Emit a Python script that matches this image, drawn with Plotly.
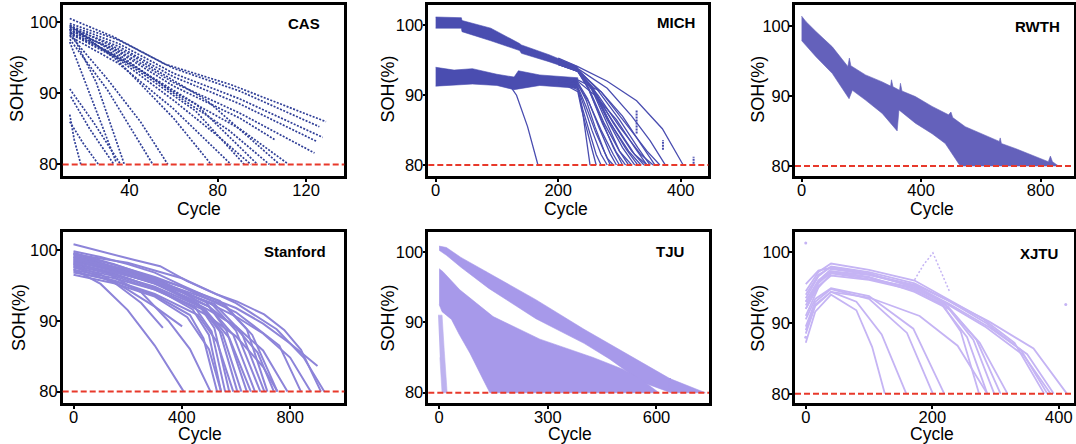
import plotly.graph_objects as go

# ---------------------------------------------------------------- data
# CAS (each curve: cycles / SOH %)
CAS_CYCLE = [
    [13, 33, 56, 86, 129], [13, 35, 60, 90, 126], [13, 35, 60, 90, 127.5],
    [13, 35, 60, 90, 125], [13, 35, 60, 90, 123.8], [13, 35, 60, 90, 105.7],
    [13, 35, 60, 90, 111.7], [13, 35, 60, 85, 103.4], [13, 35, 60, 80, 95],
    [13, 35, 60, 86], [13, 35, 60, 77], [13, 30, 45, 57.4], [13, 30, 50.6],
    [13, 25, 37.7], [13, 22, 34], [13, 40, 70, 92], [13, 40, 70, 98],
    [13, 40, 75, 108], [13, 24, 36], [13.5, 22, 33], [13, 15, 18], [13, 19, 26],
]
CAS_SOH = [
    [100.5, 97.9, 94.1, 91.2, 86.0], [99.8, 97.5, 93.5, 90.3, 85.3], [99.5, 97.0, 92.8, 89.2, 83.8],
    [99.2, 96.6, 92.3, 88.5, 83.2], [98.8, 96.0, 91.5, 87.2, 81.6], [99.0, 95.8, 91.0, 86.5, 83.5],
    [98.6, 95.2, 90.2, 85.0, 80.1], [99.3, 95.5, 90.0, 84.8, 80.0], [98.4, 94.8, 89.0, 84.0, 80.0],
    [98.0, 94.2, 87.8, 80.0], [99.6, 94.5, 86.5, 80.0], [98.2, 92.0, 86.0, 80.0], [97.6, 90.5, 80.0],
    [99.0, 91.5, 80.0], [97.2, 90.0, 80.3], [99.0, 94.0, 87.5, 80.0], [98.5, 94.2, 88.5, 80.0],
    [99.4, 95.5, 89.0, 80.0], [90.6, 85.8, 80.0], [89.5, 85.0, 80.0], [87.0, 83.5, 80.0], [86.0, 83.0, 80.0],
]

# MICH bands (upper / lower edges) and diverging curves
MICH_UP_TOP_C = [0, 42, 43, 90, 137, 140, 185, 232]
MICH_UP_TOP_S = [101.2, 101.1, 100.7, 99.6, 97.4, 97.2, 95.8, 94.1]
MICH_UP_BOT_C = [0, 42, 43, 90, 137, 140, 185, 232]
MICH_UP_BOT_S = [99.6, 99.6, 99.1, 97.8, 96.4, 96.0, 94.8, 93.4]
MICH_LO_TOP_C = [0, 30, 60, 100, 128, 135, 170, 232]
MICH_LO_TOP_S = [94.0, 93.6, 93.8, 93.0, 92.6, 93.5, 92.9, 92.5]
MICH_LO_BOT_C = [0, 60, 100, 128, 170, 232]
MICH_LO_BOT_S = [91.3, 91.6, 91.4, 90.8, 91.4, 91.0]
MICH_CYCLE = [
    [200, 232, 280, 328, 370, 404], [200, 232, 280, 320, 350, 375], [200, 232, 270, 310, 345, 366],
    [200, 232, 265, 300, 335, 355], [200, 232, 260, 295, 325, 345], [200, 232, 255, 285, 315, 335],
    [200, 232, 252, 280, 305, 325], [200, 232, 250, 275, 300, 315], [200, 232, 248, 270, 290, 305],
    [200, 232, 262, 300, 330, 350], [200, 232, 258, 290, 320, 340], [200, 232, 256, 282, 310, 330],
    [200, 232, 254, 278, 300, 320], [200, 232, 250, 272, 295, 310],
    [200, 232, 250, 270, 290, 300], [200, 232, 245, 262, 280, 290], [200, 232, 242, 255, 270, 280],
    [200, 232, 240, 250, 262, 270], [200, 232, 238, 248, 256, 262], [220, 232, 240, 246, 252],
    [200, 232, 248, 266, 285, 295], [200, 232, 246, 260, 276, 285], [200, 232, 260, 295, 325, 345],
    [200, 232, 270, 305, 335, 358],
    [120, 132, 150, 167],
]
MICH_SOH = [
    [95.3, 94.1, 92.0, 89.2, 85.2, 80.0], [95.0, 93.8, 91.0, 87.0, 83.5, 80.0], [95.0, 93.6, 90.5, 86.0, 82.0, 80.0],
    [94.8, 93.5, 90.0, 85.5, 81.5, 80.0], [94.6, 93.4, 90.2, 85.5, 81.5, 80.0], [94.5, 93.5, 91.0, 86.0, 82.0, 80.0],
    [94.5, 93.6, 91.5, 86.5, 82.5, 80.0], [94.4, 93.5, 91.0, 86.0, 82.0, 80.0], [94.4, 93.4, 91.2, 86.5, 82.5, 80.0],
    [95.0, 93.7, 91.0, 86.5, 82.5, 80.0], [94.8, 93.5, 90.8, 86.0, 82.0, 80.0], [94.6, 93.5, 91.2, 86.5, 82.4, 80.0],
    [94.5, 93.5, 91.0, 86.2, 82.0, 80.0], [94.4, 93.4, 90.8, 86.0, 81.8, 80.0],
    [92.0, 91.5, 89.0, 85.0, 81.5, 80.0], [92.0, 91.2, 88.5, 84.5, 81.0, 80.0], [92.2, 91.0, 88.5, 85.0, 81.5, 80.0],
    [92.0, 90.8, 88.0, 85.0, 81.5, 80.0], [92.0, 90.5, 88.0, 84.5, 81.8, 80.0], [91.8, 91.0, 87.5, 84.0, 80.0],
    [92.2, 91.8, 89.5, 85.5, 81.6, 80.0], [92.0, 91.6, 89.2, 85.5, 81.8, 80.0], [92.4, 92.0, 90.0, 86.5, 82.5, 80.0],
    [92.5, 92.2, 90.5, 87.0, 83.0, 80.0],
    [91.5, 90.0, 85.5, 80.0],
]
MICH_SPIKE_C = [328, 371, 421]
MICH_SPIKE_LO = [84.5, 82.2, 80.2]
MICH_SPIKE_HI = [87.9, 83.6, 81.2]

# RWTH band (upper edge left->right, lower edge right->left)
RWTH_TOP_C = [0, 15, 48, 103, 155, 160, 165, 214, 270, 298, 301, 306, 328, 331, 336, 381, 437, 492,
              500, 506, 548, 604, 662, 665, 669, 715, 771, 826, 833, 840, 860]
RWTH_TOP_S = [101.4, 100.6, 99.2, 97.0, 94.2, 95.4, 94.3, 93.0, 92.0, 91.4, 92.3, 91.3, 90.8, 91.8,
              90.7, 89.9, 88.5, 87.3, 87.7, 86.9, 85.6, 84.6, 83.5, 84.0, 83.2, 82.5, 81.5, 80.6,
              81.4, 80.6, 80.0]
RWTH_BOT_C = [860, 531, 481, 437, 381, 330, 326, 320, 270, 214, 170, 159, 103, 48, 15, 0]
RWTH_BOT_S = [80.0, 80.0, 83.2, 84.6, 86.1, 87.8, 88.0, 85.0, 87.5, 89.4, 90.8, 89.6, 93.2,
              95.6, 97.2, 97.9]

# Stanford curves
STAN_CYCLE = [
    [0, 98, 222, 320, 420, 530, 605, 704, 778, 840, 914],
    [0, 100, 200, 300, 400, 500, 600, 700, 800, 901],
    [0, 100, 200, 300, 400, 500, 600, 700, 800, 876],
    [0, 100, 200, 300, 400, 500, 600, 700, 790],
    [0, 100, 200, 300, 400, 500, 600, 700, 753],
    [0, 150, 300, 400, 500, 600, 680, 740],
    [0, 150, 300, 430, 480, 530], [0, 150, 300, 440, 500, 545], [0, 150, 300, 450, 510, 560],
    [0, 150, 300, 460, 520, 575], [0, 150, 300, 460, 530, 590], [0, 150, 300, 470, 540, 605],
    [0, 150, 300, 480, 550, 620], [0, 150, 300, 490, 565, 640], [0, 150, 300, 490, 575, 655],
    [0, 150, 300, 500, 590, 670], [0, 150, 300, 510, 600, 690], [0, 150, 300, 520, 620, 705],
    [0, 150, 300, 540, 640, 716], [0, 150, 300, 560, 660, 753],
    [0, 100, 200, 300, 407], [0, 100, 200, 300, 401], [0, 120, 250, 350, 430, 506],
    [0, 150, 250, 330], [0, 150, 300, 420, 500, 545],
    [0, 200, 400, 600, 760, 840], [0, 200, 400, 600, 750, 850, 926],
]
STAN_SOH = [
    [100.8, 99.8, 98.6, 97.7, 95.6, 93.7, 92.7, 90.9, 88.7, 85.9, 80.0],
    [99.8, 99.0, 98.0, 96.8, 95.0, 93.3, 91.8, 89.6, 86.8, 83.6],
    [99.0, 98.0, 97.0, 95.8, 94.2, 92.5, 90.6, 88.2, 84.8, 80.0],
    [98.5, 97.6, 96.4, 95.2, 93.5, 91.5, 89.2, 85.8, 80.0],
    [98.0, 97.2, 96.0, 94.6, 92.8, 90.6, 87.8, 83.5, 80.0],
    [99.5, 97.5, 95.5, 94.0, 92.0, 89.0, 85.5, 80.0],
    [97.0, 95.6, 93.6, 90.8, 87.5, 80.0], [98.2, 96.6, 94.6, 91.6, 88.0, 80.0], [97.5, 96.3, 94.4, 91.8, 88.5, 80.0],
    [99.2, 97.6, 95.6, 92.4, 89.0, 80.0], [96.8, 95.7, 93.8, 90.8, 87.0, 80.0], [98.8, 97.2, 95.3, 92.0, 88.5, 80.0],
    [97.8, 96.5, 94.8, 91.8, 88.2, 80.0], [99.6, 98.0, 96.0, 92.6, 88.6, 80.0], [97.2, 96.0, 94.4, 91.4, 87.6, 80.0],
    [98.4, 97.0, 95.3, 92.0, 88.0, 80.0], [99.0, 97.6, 95.8, 92.4, 88.6, 80.0], [98.0, 96.8, 95.4, 92.4, 88.4, 80.0],
    [99.4, 97.9, 96.2, 92.8, 88.8, 80.0], [98.6, 97.3, 95.7, 92.2, 88.0, 80.0],
    [97.3, 95.2, 91.5, 86.5, 80.0], [97.8, 96.5, 94.4, 92.0, 89.2], [98.3, 96.8, 94.0, 90.0, 86.0, 80.0],
    [97.6, 95.4, 92.5, 89.0], [96.5, 95.3, 93.4, 90.5, 86.0, 80.0],
    [98.8, 97.2, 94.8, 91.2, 86.5, 80.0], [99.4, 98.2, 96.0, 92.5, 88.8, 84.8, 80.0],
]

# TJU bands
TJU_UP_TOP_C = [0, 20, 60, 137, 267, 400, 508, 637, 735]
TJU_UP_TOP_S = [100.8, 100.6, 99.2, 97.0, 93.2, 89.0, 85.8, 82.0, 80.0]
TJU_UP_BOT_C = [735, 640, 560, 470, 400, 267, 137, 60, 20, 0]
TJU_UP_BOT_S = [80.0, 80.0, 81.5, 84.8, 87.0, 90.5, 94.8, 97.8, 99.5, 100.2]
TJU_FAN_TOP_C = [0, 10, 57, 149, 278, 425, 509, 560, 607]
TJU_FAN_TOP_S = [97.6, 97.2, 94.6, 90.8, 87.6, 85.0, 83.3, 81.8, 80.0]
TJU_FAN_BOT_C = [607, 140, 122, 85, 55, 34, 8, 0]
TJU_FAN_BOT_S = [80.0, 80.0, 81.8, 85.6, 88.3, 90.4, 91.5, 92.5]
TJU_NOISE_C = [-3, 8, 14, 22, 8, 2]
TJU_NOISE_S = [91.0, 91.0, 86.0, 80.0, 80.0, 85.0]
TJU_SPIKE_C = [127, 256, 279, 382, 508, 637]
TJU_SPIKE_LO = [95.8, 92.0, 86.3, 87.8, 83.9, 80.2]
TJU_SPIKE_HI = [97.2, 93.4, 87.0, 89.4, 85.6, 82.1]

# XJTU curves
XJTU_CYCLE = [
    [0, 20, 40, 100, 172, 225, 280, 330, 377], [0, 20, 40, 100, 172, 225, 285, 340, 382],
    [0, 20, 40, 100, 172, 225, 290, 350, 392], [0, 20, 40, 100, 172, 225, 290, 360, 413],
    [0, 20, 40, 100, 172, 225, 285, 345, 387], [0, 20, 40, 100, 172, 210, 245, 274],
    [0, 20, 40, 100, 172, 215, 255, 287], [0, 20, 40, 100, 172, 220, 265, 298],
    [0, 20, 40, 100, 172, 225, 270, 308], [0, 20, 40, 100, 172, 228, 275, 319],
    [0, 15, 40, 80, 105, 125], [0, 15, 40, 80, 120, 159], [0, 15, 40, 100, 160, 201],
    [0, 15, 40, 100, 170, 219], [0, 15, 40, 100, 180, 240, 287],
]
XJTU_SOH = [
    [94.5, 97.2, 98.4, 97.5, 96.0, 93.4, 90.6, 87.2, 80.0], [93.5, 96.6, 98.0, 97.2, 95.6, 93.2, 90.0, 86.2, 80.0],
    [95.5, 97.4, 97.8, 96.8, 95.2, 92.8, 89.4, 85.6, 80.0], [92.0, 95.6, 97.3, 96.8, 95.4, 93.2, 90.2, 86.4, 80.0],
    [91.0, 95.0, 97.0, 96.2, 95.0, 92.6, 89.4, 85.4, 80.0], [93.0, 96.0, 97.6, 96.9, 95.3, 93.4, 88.8, 80.0],
    [92.5, 95.8, 97.1, 96.4, 94.8, 92.6, 88.0, 80.0], [94.0, 96.8, 97.9, 97.0, 95.0, 92.7, 87.6, 80.0],
    [92.0, 95.2, 96.7, 96.1, 94.6, 92.3, 87.6, 80.0], [93.0, 96.0, 97.3, 96.5, 94.4, 91.9, 87.2, 80.0],
    [87.2, 91.6, 94.0, 91.8, 86.6, 80.0], [88.5, 92.4, 94.4, 93.0, 88.4, 80.0], [89.5, 93.0, 94.8, 93.4, 88.6, 80.0],
    [90.5, 93.4, 94.9, 93.8, 89.2, 80.0], [89.0, 92.6, 94.4, 93.6, 91.0, 86.8, 80.0],
]
XJTU_OUT_C = [172, 186, 201, 214, 227]
XJTU_OUT_S = [96.1, 98.2, 99.9, 97.3, 94.5]
XJTU_DOT_C = [0, 0, 411]
XJTU_DOT_S = [101.3, 88.0, 92.6]

EOL_SOH = 80
PANEL_NAMES = ["CAS", "MICH", "RWTH", "Stanford", "TJU", "XJTU"]
X_TICKS = [[40, 80, 120], [0, 200, 400], [0, 400, 800], [0, 400, 800], [0, 300, 600], [0, 200, 400]]
Y_TICKS = [80, 90, 100]

# ---------------------------------------------------------------- layout config
W, H = 1076, 444
FRAMES = [(62.7, 344.3, 5, 176), (428.3, 708.3, 5, 176), (795, 1074, 5, 176),
          (62.7, 344.3, 232, 403), (428.3, 709, 232, 403), (795, 1074, 232, 403)]
XRANGES = [[9.8, 137.3], [-12, 445], [-22, 912], [-40, 1000], [-30, 745], [-17, 424]]
YRANGES = [[78.37, 102.40], [78.43, 102.92], [78.56, 102.98],
           [78.39, 102.53], [78.54, 102.80], [78.71, 102.85]]
COLORS = ["#2f3e97", "#4a4db0", "#6461bb", "#8d84d9", "#a799ea", "#c5b4f4"]
LABEL_POS = [(303.7, 23.3), (676, 22.7), (1037.7, 26.7), (295, 251.7), (670, 251.7), (1039, 253.3)]
SOH_POS = [(17, 89), (387.5, 89), (757.7, 89), (19, 318), (387.5, 318), (757.7, 318)]
CYC_POS = [(199, 209), (566, 209), (932, 209), (200, 434), (570, 434), (932, 434)]
FONT = "Liberation Sans, Arial, sans-serif"

fig = go.Figure()


def ax_ids(i):
    return ("x" if i == 0 else f"x{i+1}"), ("y" if i == 0 else f"y{i+1}")


def add_lines(i, xs, ys, width=1.6, dash=None, color=None, opacity=1.0):
    xa, ya = ax_ids(i)
    fig.add_trace(go.Scatter(x=xs, y=ys, mode="lines", xaxis=xa, yaxis=ya,
                             line=dict(color=color or COLORS[i], width=width, dash=dash),
                             opacity=opacity, hoverinfo="skip", showlegend=False))


def add_poly(i, xs, ys, opacity=1.0):
    xa, ya = ax_ids(i)
    fig.add_trace(go.Scatter(x=xs, y=ys, mode="lines", fill="toself", xaxis=xa, yaxis=ya,
                             fillcolor=COLORS[i], line=dict(color=COLORS[i], width=0.6),
                             opacity=opacity, hoverinfo="skip", showlegend=False))


def add_spikes(i, cs, lo, hi):
    xs, ys = [], []
    for c, a, b in zip(cs, lo, hi):
        xs += [c, c, None]
        ys += [a, b, None]
    add_lines(i, xs, ys, width=2, dash="2px,1px")


# CAS (dotted)
for c, s in zip(CAS_CYCLE, CAS_SOH):
    add_lines(0, c, s, width=1.7, dash="2px,1.5px")

# MICH
add_poly(1, MICH_UP_TOP_C + MICH_UP_BOT_C[::-1], MICH_UP_TOP_S + MICH_UP_BOT_S[::-1])
add_poly(1, MICH_LO_TOP_C + MICH_LO_BOT_C[::-1], MICH_LO_TOP_S + MICH_LO_BOT_S[::-1])
for c, s in zip(MICH_CYCLE, MICH_SOH):
    add_lines(1, c, s, width=1.3)
add_spikes(1, MICH_SPIKE_C, MICH_SPIKE_LO, MICH_SPIKE_HI)

# RWTH
add_poly(2, RWTH_TOP_C + RWTH_BOT_C, RWTH_TOP_S + RWTH_BOT_S)

# Stanford
for c, s in zip(STAN_CYCLE, STAN_SOH):
    add_lines(3, c, s, width=2)

# TJU
add_poly(4, TJU_UP_TOP_C + TJU_UP_BOT_C, TJU_UP_TOP_S + TJU_UP_BOT_S)
add_poly(4, TJU_FAN_TOP_C + TJU_FAN_BOT_C, TJU_FAN_TOP_S + TJU_FAN_BOT_S)
add_poly(4, TJU_NOISE_C, TJU_NOISE_S, opacity=0.75)
add_spikes(4, TJU_SPIKE_C, TJU_SPIKE_LO, TJU_SPIKE_HI)

# XJTU
for c, s in zip(XJTU_CYCLE, XJTU_SOH):
    add_lines(5, c, s, width=1.8)
add_lines(5, XJTU_OUT_C, XJTU_OUT_S, width=1.5, dash="2px,2px")
xa, ya = ax_ids(5)
fig.add_trace(go.Scatter(x=XJTU_DOT_C, y=XJTU_DOT_S, mode="markers", xaxis=xa, yaxis=ya,
                         marker=dict(color=COLORS[5], size=3), hoverinfo="skip", showlegend=False))

layout = dict(width=W, height=H, margin=dict(l=0, r=0, t=0, b=0),
              paper_bgcolor="white", plot_bgcolor="white", showlegend=False,
              font=dict(family=FONT, color="black"))
annotations, shapes = [], []
for i in range(6):
    x0, x1, y0, y1 = FRAMES[i]
    xk = "xaxis" if i == 0 else f"xaxis{i+1}"
    yk = "yaxis" if i == 0 else f"yaxis{i+1}"
    xa, ya = ax_ids(i)
    common = dict(showgrid=False, zeroline=False, showline=True, mirror=True,
                  linecolor="black", linewidth=2.5, ticks="outside", ticklen=3,
                  tickwidth=2, tickcolor="black",
                  tickfont=dict(size=16.5, family=FONT, color="black"))
    layout[xk] = dict(domain=[x0 / W, x1 / W], range=XRANGES[i], anchor=ya,
                      tickvals=X_TICKS[i], ticklabelstandoff=-6, **common)
    layout[yk] = dict(domain=[1 - y1 / H, 1 - y0 / H], range=YRANGES[i], anchor=xa,
                      tickvals=Y_TICKS, ticklabelstandoff=-4, **common)
    shapes.append(dict(type="line", xref=f"{xa} domain", yref=ya, x0=0, x1=1,
                       y0=EOL_SOH, y1=EOL_SOH, layer="above",
                       line=dict(color="#e8392b", width=2, dash="6px,3px")))
    lx, ly = LABEL_POS[i]
    annotations.append(dict(text=f"<b>{PANEL_NAMES[i]}</b>", x=lx / W, y=1 - ly / H, xref="paper",
                            yref="paper", showarrow=False, xanchor="center", yanchor="middle",
                            font=dict(size=15, family=FONT, color="black")))
    sx, sy = SOH_POS[i]
    annotations.append(dict(text="SOH(%)", x=sx / W, y=1 - sy / H, xref="paper", yref="paper",
                            showarrow=False, textangle=-90, xanchor="center", yanchor="middle",
                            font=dict(size=18, family=FONT, color="black")))
    cx, cy = CYC_POS[i]
    annotations.append(dict(text="Cycle", x=cx / W, y=1 - cy / H, xref="paper", yref="paper",
                            showarrow=False, xanchor="center", yanchor="middle",
                            font=dict(size=17.5, family=FONT, color="black")))
layout["annotations"] = annotations
layout["shapes"] = shapes
fig.update_layout(**layout)
fig.write_html("out.html", config={"displayModeBar": False},
               post_script="document.body.style.margin='0';document.body.style.overflow='hidden';")
